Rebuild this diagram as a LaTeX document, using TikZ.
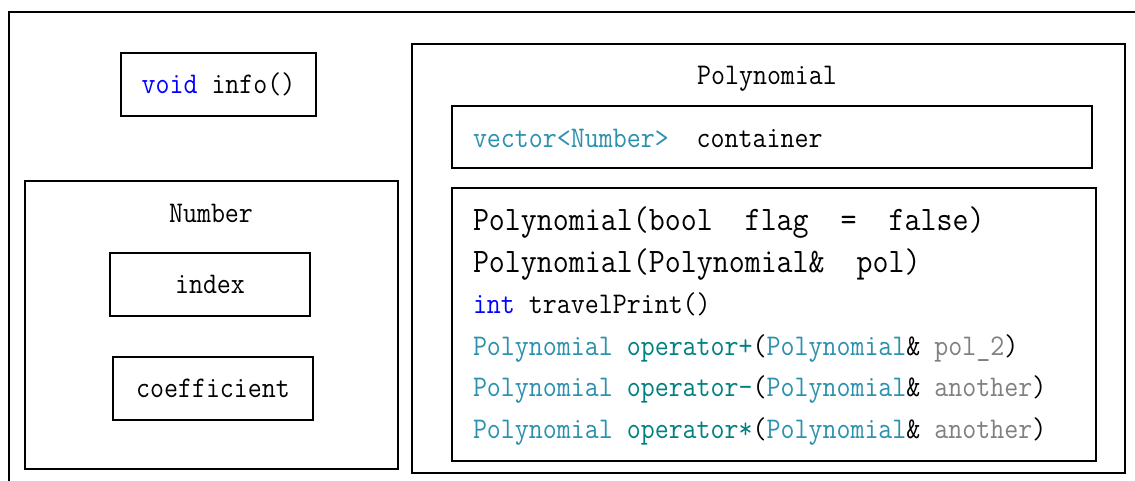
\documentclass[tikz,border=0pt]{standalone}
\usepackage{graphicx}
\usepackage{xcolor}
\definecolor{kwblue}{RGB}{0,0,255}
\definecolor{typecol}{RGB}{43,145,175}
\definecolor{opcol}{RGB}{0,128,128}
\definecolor{parcol}{RGB}{128,128,128}
\newcommand\smtt[1]{{\fontsize{30}{36}\selectfont\ttfamily\scalebox{0.905}[1]{#1}}}
\newcommand\bgtt[1]{{\fontsize{34.3}{40}\selectfont\ttfamily\scalebox{0.905}[1]{#1}}}
\begin{document}
\begin{tikzpicture}[x=1pt,y=-1pt,
  box/.style={draw=black,line width=1.8pt,rectangle,inner sep=0pt,outer sep=0pt},
  txt/.style={inner sep=0pt,outer sep=0pt},
  codeline/.style={inner sep=0pt,outer sep=0pt,anchor=base west}]
\useasboundingbox[fill=white] (0,0) rectangle (1135,481);
% outer frame (open to the right and bottom)
\draw[line width=1.8pt] (9,490) -- (9,12) -- (1145,12);
% left part
\node[box,minimum width=195,minimum height=63] (info) at (218.5,84.5)
  {\smtt{\textcolor{kwblue}{void} info()}};
\node[box,minimum width=373,minimum height=288] (numbox) at (211.5,325) {};
\node[txt] (numtitle) at (211,213) {\smtt{Number}};
\node[box,minimum width=200,minimum height=63] (index) at (210,284.5) {\smtt{index}};
\node[box,minimum width=200,minimum height=63] (coef) at (213,388.5) {\smtt{coefficient}};
% Polynomial
\node[box,minimum width=713,minimum height=429] (polybox) at (768.5,258.5) {};
\node[txt] (polytitle) at (767,79) {\smtt{Polynomial}};
\node[box,minimum width=640,minimum height=62] (contbox) at (772,137) {};
\node[codeline] (cont) at (473,148)
  {\smtt{\textcolor{typecol}{vector<Number>}\ \ container}};
\node[box,minimum width=644,minimum height=273] (methbox) at (774,324.5) {};
\node[codeline] (m1) at (473,231) {\bgtt{Polynomial(bool\ \ flag\ \ =\ \ false)}};
\node[codeline] (m2) at (473,272) {\bgtt{Polynomial(Polynomial\&\ \ pol)}};
\node[codeline] (m3) at (473,313) {\smtt{\textcolor{kwblue}{int} travelPrint()}};
\node[codeline] (m4) at (473,355) {\smtt{\textcolor{typecol}{Polynomial} \textcolor{opcol}{operator+}(\textcolor{typecol}{Polynomial}\& \textcolor{parcol}{pol\_2})}};
\node[codeline] (m5) at (473,396) {\smtt{\textcolor{typecol}{Polynomial} \textcolor{opcol}{operator-}(\textcolor{typecol}{Polynomial}\& \textcolor{parcol}{another})}};
\node[codeline] (m6) at (473,438) {\smtt{\textcolor{typecol}{Polynomial} \textcolor{opcol}{operator*}(\textcolor{typecol}{Polynomial}\& \textcolor{parcol}{another})}};
\end{tikzpicture}
\end{document}
